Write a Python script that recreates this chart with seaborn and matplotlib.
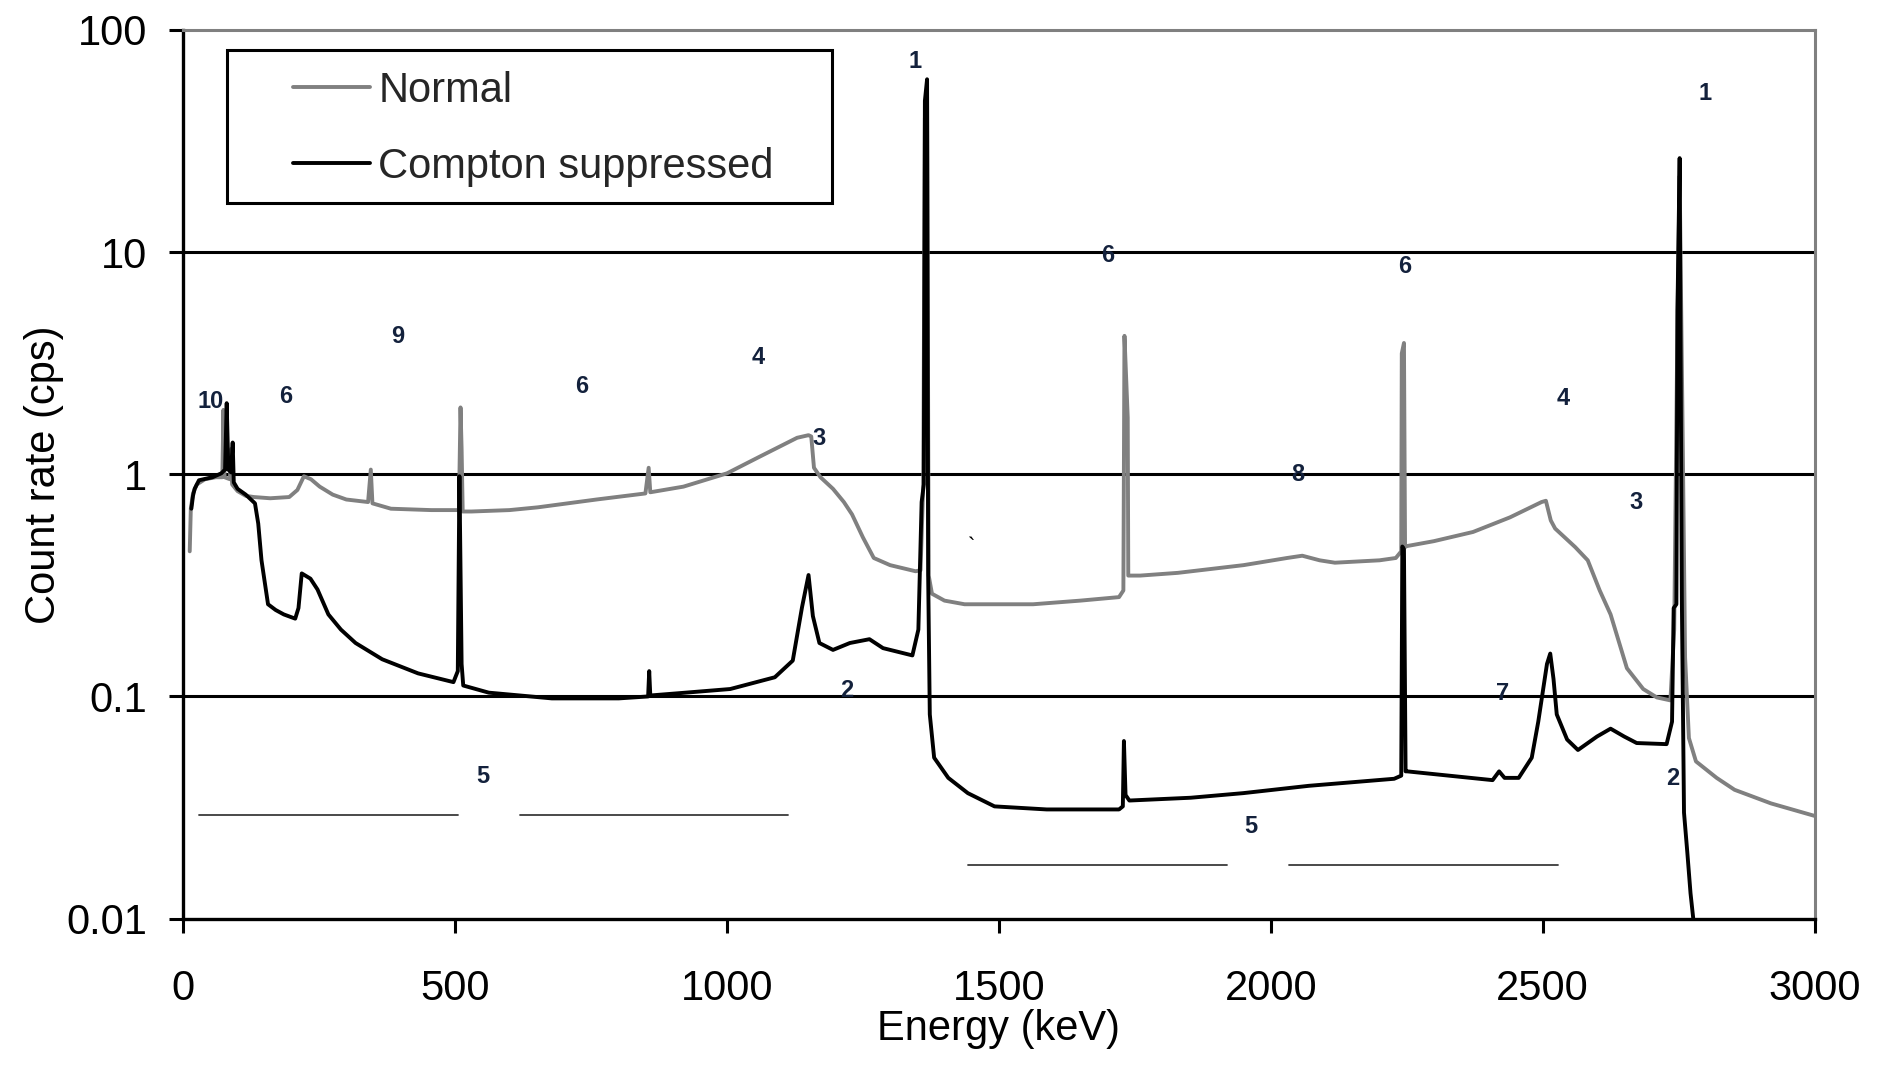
import matplotlib
matplotlib.use("Agg")
import matplotlib.pyplot as plt
from matplotlib.patches import Rectangle
from matplotlib.ticker import FixedLocator, NullLocator
import pandas as pd
import seaborn as sns

# Gamma spectrum without Compton suppression (energy in keV, count rate in cps)
normal_kev = [12, 14, 18, 25, 40, 60, 72, 74, 76, 86, 88, 90, 100, 115, 130, 160,
              195, 210, 222, 235, 251, 275, 300, 340, 345, 348, 382, 456, 507, 510,
              512, 514, 530, 600, 652, 760, 850, 856, 859, 920, 1000, 1060, 1129,
              1150, 1155, 1160, 1172, 1195, 1215, 1230, 1250, 1270, 1300, 1347, 1356,
              1361, 1364, 1368, 1371, 1377, 1400, 1437, 1563, 1650, 1721, 1729, 1731,
              1737, 1738, 1760, 1829, 1950, 2030, 2058, 2090, 2118, 2200, 2230, 2240,
              2241, 2245, 2247, 2250, 2300, 2372, 2440, 2498, 2506, 2515, 2523, 2560,
              2583, 2605, 2625, 2655, 2685, 2710, 2735, 2742, 2748, 2752, 2758, 2762,
              2769, 2782, 2820, 2853, 2920, 3000]
normal_cps = [0.45, 0.70, 0.82, 0.90, 0.95, 0.97, 0.97, 1.95, 0.97, 0.95, 1.30, 0.90,
              0.84, 0.80, 0.79, 0.78, 0.79, 0.85, 0.98, 0.95, 0.88, 0.81, 0.77, 0.75,
              1.05, 0.74, 0.70, 0.69, 0.69, 2.0, 1.3, 0.68, 0.68, 0.69, 0.71, 0.77,
              0.82, 1.07, 0.83, 0.88, 1.01, 1.2, 1.46, 1.50, 1.48, 1.07, 0.97, 0.86,
              0.75, 0.66, 0.52, 0.42, 0.39, 0.366, 0.37, 0.9, 40, 50, 0.35, 0.29,
              0.27, 0.26, 0.26, 0.27, 0.28, 0.30, 4.2, 1.8, 0.35, 0.35, 0.36, 0.39,
              0.42, 0.43, 0.41, 0.40, 0.41, 0.42, 0.45, 3.5, 3.9, 0.47, 0.475, 0.50,
              0.55, 0.64, 0.75, 0.76, 0.62, 0.57, 0.47, 0.41, 0.30, 0.234, 0.134,
              0.108, 0.099, 0.096, 0.2, 5.0, 22, 1.2, 0.15, 0.065, 0.051, 0.043,
              0.038, 0.033, 0.029]

# Gamma spectrum with Compton suppression
suppressed_kev = [15, 18, 21, 29, 54, 70, 77, 80, 83, 88, 91, 93, 100, 115, 132, 138,
                  144, 156, 170, 185, 206, 212, 218, 234, 247, 267, 290, 317, 366, 432,
                  497, 505, 508, 512, 515, 562, 678, 801, 855, 857, 859, 924, 1006,
                  1088, 1121, 1138, 1150, 1158, 1170, 1195, 1226, 1262, 1287, 1341,
                  1352, 1358, 1362, 1364, 1368, 1370, 1373, 1381, 1407, 1443, 1492,
                  1588, 1721, 1728, 1730, 1733, 1740, 1853, 1949, 2070, 2227, 2240,
                  2242, 2245, 2248, 2251, 2408, 2420, 2430, 2456, 2480, 2492, 2508,
                  2514, 2520, 2526, 2545, 2565, 2600, 2625, 2650, 2673, 2728, 2738,
                  2741, 2746, 2748, 2752, 2756, 2760, 2766, 2772, 2778]
suppressed_cps = [0.70, 0.80, 0.86, 0.94, 0.97, 1.01, 1.05, 2.09, 1.05, 1.02, 1.39,
                  0.92, 0.86, 0.81, 0.74, 0.60, 0.41, 0.26, 0.245, 0.234, 0.224, 0.25,
                  0.358, 0.339, 0.303, 0.234, 0.20, 0.174, 0.147, 0.127, 0.116, 0.13,
                  0.98, 0.14, 0.112, 0.104, 0.098, 0.098, 0.10, 0.13, 0.101, 0.104,
                  0.108, 0.122, 0.145, 0.252, 0.352, 0.23, 0.174, 0.162, 0.174, 0.181,
                  0.165, 0.153, 0.20, 0.75, 0.90, 48, 60, 0.35, 0.083, 0.053, 0.043,
                  0.0367, 0.032, 0.031, 0.031, 0.032, 0.063, 0.036, 0.034, 0.035,
                  0.0367, 0.0396, 0.0426, 0.044, 0.473, 0.46, 0.046, 0.046, 0.042,
                  0.046, 0.043, 0.043, 0.053, 0.077, 0.14, 0.156, 0.12, 0.083, 0.064,
                  0.0574, 0.066, 0.0716, 0.066, 0.0617, 0.061, 0.077, 0.25, 0.26, 5.5,
                  26.5, 0.28, 0.03, 0.02, 0.013, 0.0095]

# Peak identification numbers
tag_text = ["10", "6", "9", "6", "4", "3", "1", "6", "6", "8", "4", "3", "1",
            "2", "7", "2", "5", "5"]
tag_kev = [50, 189, 395, 733, 1057, 1169, 1346, 1700, 2246, 2050, 2537, 2671, 2798,
           1220, 2426, 2740, 551, 1964]
tag_cps = [2.12, 2.23, 4.16, 2.48, 3.34, 1.45, 72, 9.7, 8.6, 1.0, 2.2, 0.75, 52,
           0.106, 0.1035, 0.0427, 0.0434, 0.0259]

# Range markers under the "5" labels
range_cps = [0.0292, 0.0292, 0.0175, 0.0175]
range_start_kev = [29, 620, 1443, 2034]
range_end_kev = [505, 1113, 1920, 2529]

x_ticks = [0, 500, 1000, 1500, 2000, 2500, 3000]
y_ticks = [0.01, 0.1, 1, 10, 100]
y_tick_labels = ["0.01", "0.1", "1", "10", "100"]
grid_levels = [0.1, 1, 10]

series_names = ["Normal", "Compton suppressed"]

sns.set_theme(style="white")
plt.rcParams["font.family"] = ["Liberation Sans", "DejaVu Sans"]

fig = plt.figure(figsize=(18.78, 10.72), dpi=100)
ax = fig.add_axes([0.09755, 0.14310, 0.86864, 0.82892])

spectra = pd.concat([
    pd.DataFrame({"Energy": normal_kev, "Rate": normal_cps, "Spectrum": series_names[0]}),
    pd.DataFrame({"Energy": suppressed_kev, "Rate": suppressed_cps, "Spectrum": series_names[1]}),
], ignore_index=True)

for level in grid_levels:
    ax.axhline(level, color="black", lw=2.2, zorder=1)

sns.lineplot(data=spectra, x="Energy", y="Rate", hue="Spectrum", hue_order=series_names,
             palette={"Normal": "#808080", "Compton suppressed": "#000000"},
             sort=False, estimator=None, linewidth=2.8, ax=ax, zorder=3)

for y0, xa, xb in zip(range_cps, range_start_kev, range_end_kev):
    ax.plot([xa, xb], [y0, y0], color="#3a3a3a", lw=1.3, zorder=2)

for t, e, r in zip(tag_text, tag_kev, tag_cps):
    ax.text(e, r, t, ha="center", va="center", fontsize=17, fontweight="bold",
            color="#13213c", zorder=4)
ax.text(1449, 0.47, "`", ha="center", va="center", fontsize=16, color="black")

ax.set_yscale("log")
ax.set_xlim(0, 3000)
ax.set_ylim(0.01, 100)
ax.xaxis.set_major_locator(FixedLocator(x_ticks))
ax.set_xticklabels([str(v) for v in x_ticks])
ax.yaxis.set_major_locator(FixedLocator(y_ticks))
ax.yaxis.set_minor_locator(NullLocator())
ax.set_yticklabels(y_tick_labels)

ax.tick_params(axis="both", which="major", direction="out", length=10, width=2.2,
               color="black", labelsize=30, labelcolor="black", bottom=True, left=True)
ax.tick_params(axis="x", pad=26)
ax.tick_params(axis="y", pad=16)

for side in ("left", "bottom"):
    ax.spines[side].set_color("black")
    ax.spines[side].set_linewidth(2.4)
for side in ("top", "right"):
    ax.spines[side].set_color("#808080")
    ax.spines[side].set_linewidth(2.2)

ax.set_xlabel("Energy (keV)", fontsize=30, color="black")
ax.xaxis.set_label_coords(0.5, -0.102)
ax.set_ylabel("Count rate (cps)", fontsize=30, color="black")
ax.yaxis.set_label_coords(-0.073, 0.5)

ax.add_patch(Rectangle((0.0268, 0.8053), 0.3709, 0.1722, transform=ax.transAxes,
                       facecolor="white", edgecolor="black", lw=2.2, zorder=4.5))
handles, labels = ax.get_legend_handles_labels()
ax.legend(handles, labels, loc="upper left", bbox_to_anchor=(0.0673, 0.954),
          frameon=False, borderpad=0, borderaxespad=0, fontsize=30,
          handlelength=1.85, handletextpad=0.2, labelspacing=0.86)

fig.savefig("out.png", dpi=100)
